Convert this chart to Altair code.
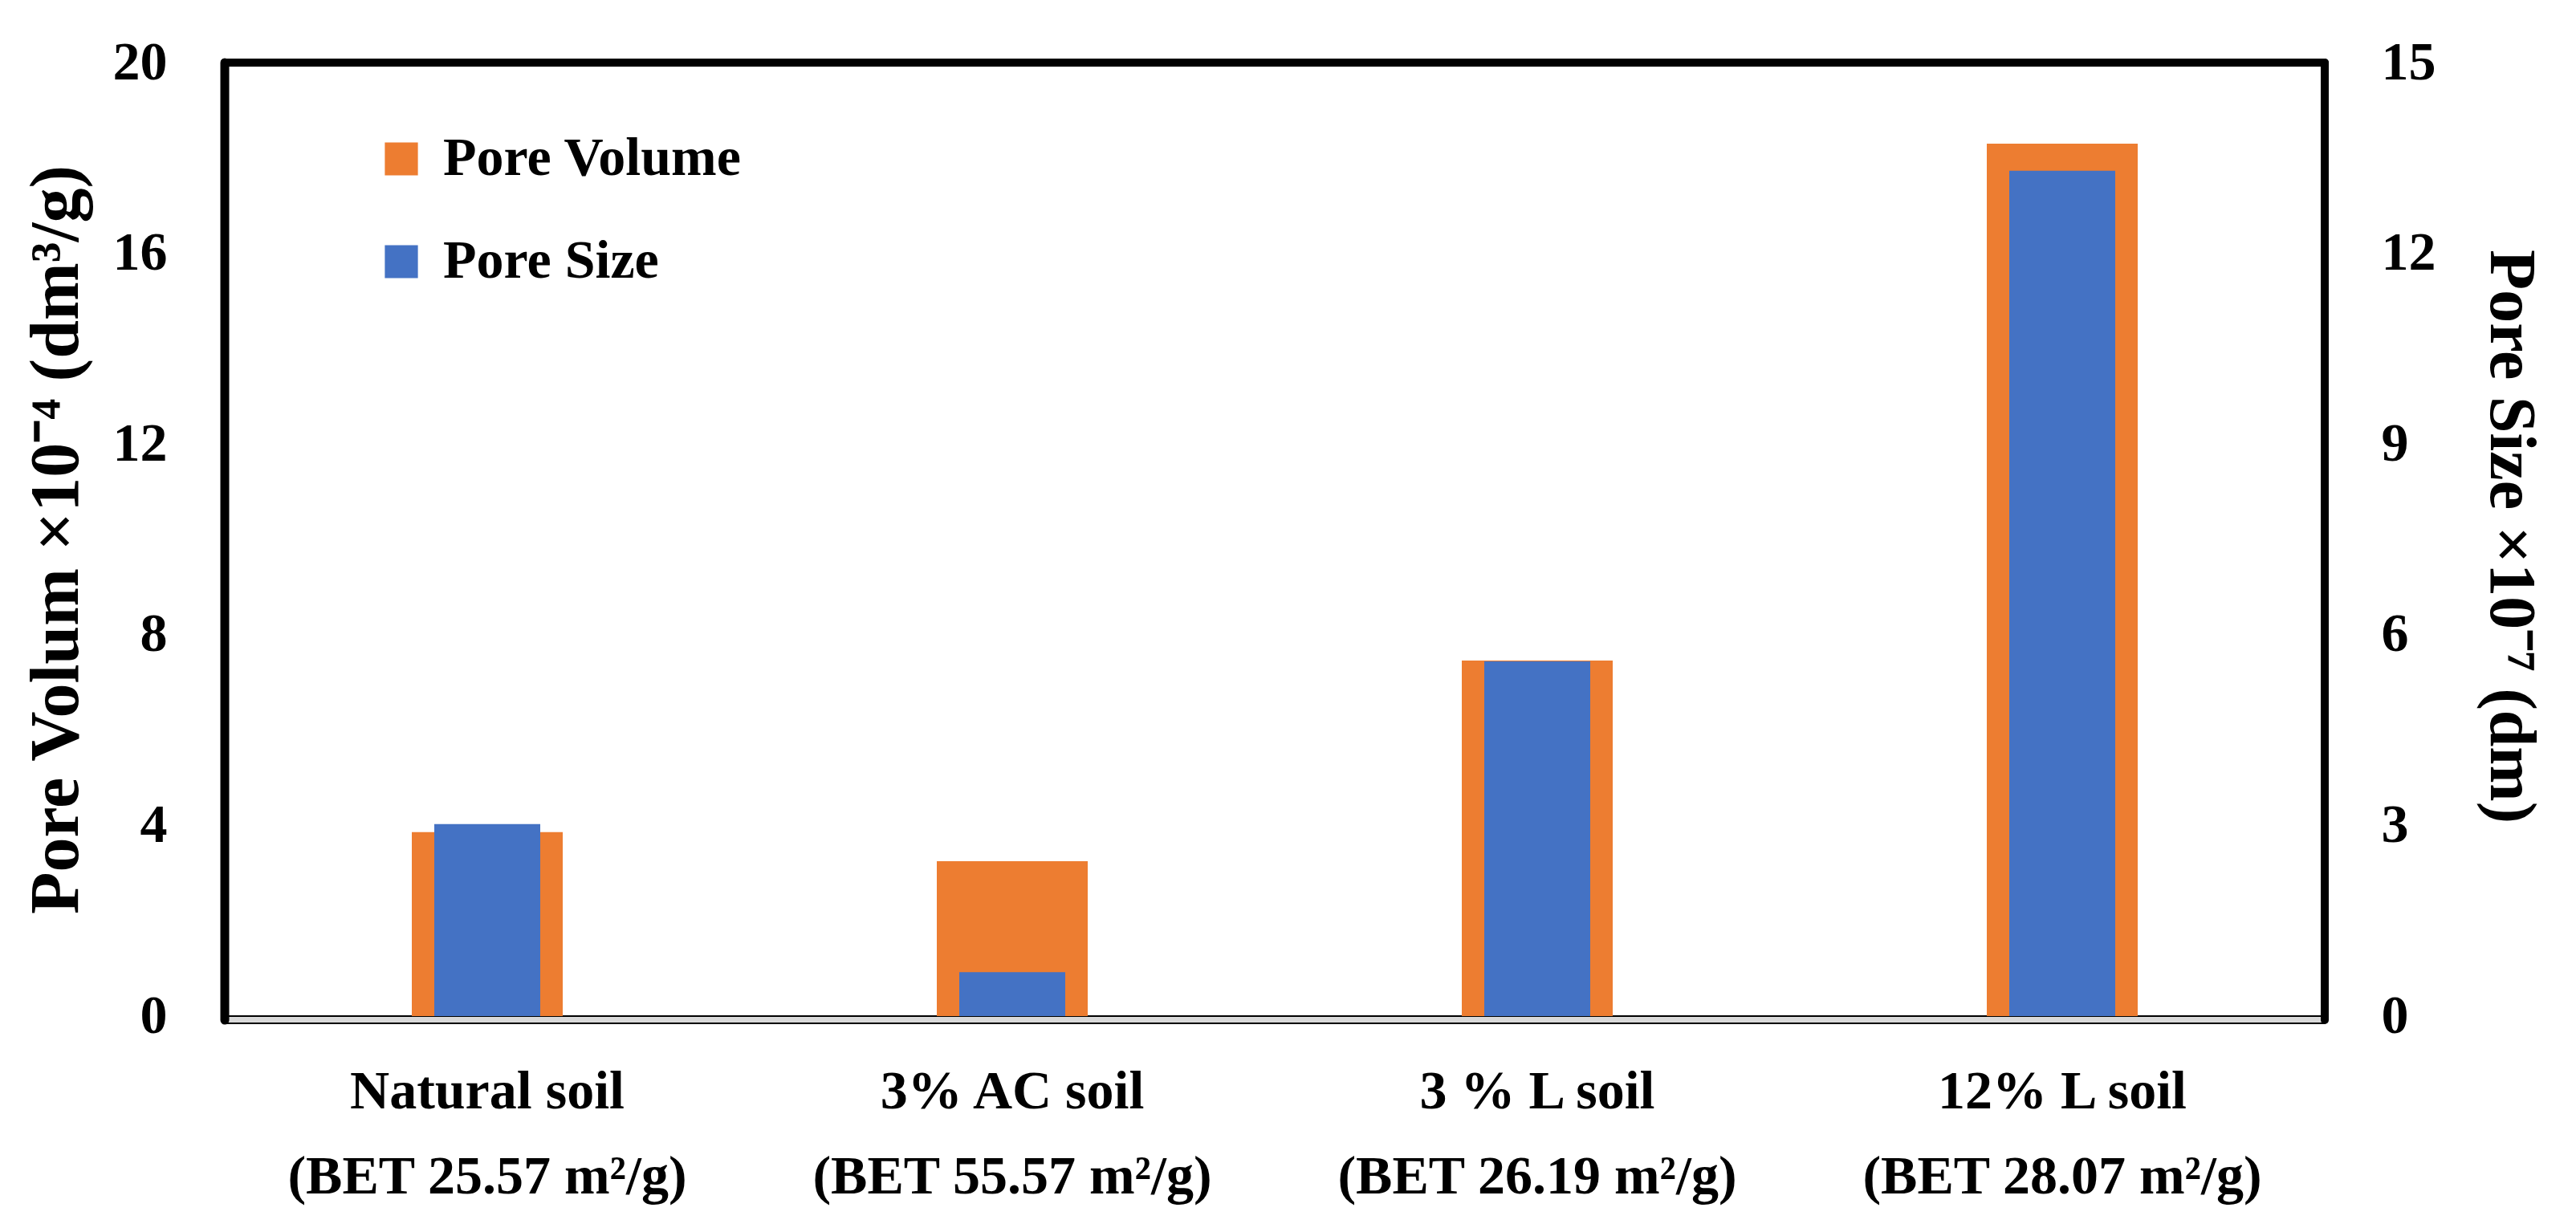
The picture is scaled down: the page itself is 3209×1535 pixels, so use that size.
import altair as alt
import pandas as pd

categories = [
    "Natural soil\n(BET 25.57 m²/g)",
    "3% AC soil\n(BET 55.57 m²/g)",
    "3 % L soil\n(BET 26.19 m²/g)",
    "12% L soil\n(BET 28.07 m²/g)",
]
pore_volume = [3.86, 3.25, 7.46, 18.30]
pore_size = [3.02, 0.69, 5.58, 13.30]
series_names = ["Pore Volume", "Pore Size"]
series_colors = ["#ED7D31", "#4472C4"]
left_ticks = [0, 4, 8, 12, 16, 20]
right_ticks = [0, 3, 6, 9, 12, 15]

W, H = 2616, 1188
FONT = "Liberation Serif"

df = pd.DataFrame({
    "cat": categories,
    "vol": pore_volume,
    "size": pore_size,
    "s_vol": series_names[0],
    "s_size": series_names[1],
})

xenc = alt.X(
    "cat:N",
    sort=categories,
    scale=alt.Scale(paddingInner=0, paddingOuter=0),
    axis=alt.Axis(
        title=None, domain=False, ticks=False, tickSize=0, labelAngle=0,
        labelFont=FONT, labelFontSize=68, labelFontWeight="bold", labelColor="black",
        labelPadding=60, labelLineHeight=106, labelBaseline="top", labelLimit=0,
        labelExpr="split(datum.label, '\\n')",
    ),
)

color_scale = alt.Scale(domain=series_names, range=series_colors)
legend = alt.Legend(
    orient="none", legendX=186, legendY=86, title=None,
    symbolType="square", symbolSize=1700, symbolStrokeWidth=0,
    labelFont=FONT, labelFontSize=68, labelFontWeight="bold", labelColor="black",
    labelOffset=18, rowPadding=60, padding=0, labelLimit=0,
)

base = alt.Chart(df)

orange = base.mark_bar(size=188).encode(
    x=xenc,
    y=alt.Y(
        "vol:Q",
        scale=alt.Scale(domain=[0, 20], nice=False, zero=True),
        axis=alt.Axis(
            orient="left", values=left_ticks, grid=False, domain=False, ticks=False, tickSize=0,
            labelFont=FONT, labelFontSize=68, labelFontWeight="bold", labelColor="black",
            labelPadding=72,
            title="Pore Volum ×10⁻⁴ (dm³/g)", titleFont=FONT, titleFontSize=86,
            titleFontWeight="bold", titleColor="black",
            titleBaseline="alphabetic", titleX=-184, titleY=H / 2,
        ),
    ),
    color=alt.Color("s_vol:N", scale=color_scale, legend=legend),
)

blue = base.mark_bar(size=132).encode(
    x=xenc,
    y=alt.Y(
        "size:Q",
        scale=alt.Scale(domain=[0, 15], nice=False, zero=True),
        axis=alt.Axis(
            orient="right", values=right_ticks, grid=False, domain=False, ticks=False, tickSize=0,
            labelFont=FONT, labelFontSize=68, labelFontWeight="bold", labelColor="black",
            labelPadding=70,
            title="Pore Size ×10⁻⁷  (dm)", titleFont=FONT, titleFontSize=82,
            titleFontWeight="bold", titleColor="black",
            titleBaseline="alphabetic", titleX=206, titleY=590,
        ),
    ),
    color=alt.Color("s_size:N", scale=color_scale, legend=legend),
)

one = alt.Data(values=[{"k": 1}])
floor = alt.Chart(one).mark_rect(fill="#d9d9d9", stroke="black", strokeWidth=2).encode(
    x=alt.value(0), x2=alt.value(W), y=alt.value(H), y2=alt.value(H + 9)
)
left_line = alt.Chart(one).mark_rule(color="black", strokeWidth=11, strokeCap="round").encode(
    x=alt.value(0), y=alt.value(0), y2=alt.value(H + 5)
)
top_line = alt.Chart(one).mark_rule(color="black", strokeWidth=10, strokeCap="round").encode(
    x=alt.value(0), x2=alt.value(W), y=alt.value(0)
)
right_line = alt.Chart(one).mark_rule(color="black", strokeWidth=10, strokeCap="round").encode(
    x=alt.value(W), y=alt.value(0), y2=alt.value(H + 5)
)

chart = (
    alt.layer(floor, orange, blue, left_line, top_line, right_line)
    .resolve_scale(y="independent")
    .properties(
        width=W, height=H,
        autosize=alt.AutoSizeParams(type="none"),
        padding={"left": 272, "top": 70, "right": 305, "bottom": 261},
        background="white",
    )
    .configure_view(stroke=None)
)

chart.save("out.html", embed_options={"renderer": "svg", "actions": False})
